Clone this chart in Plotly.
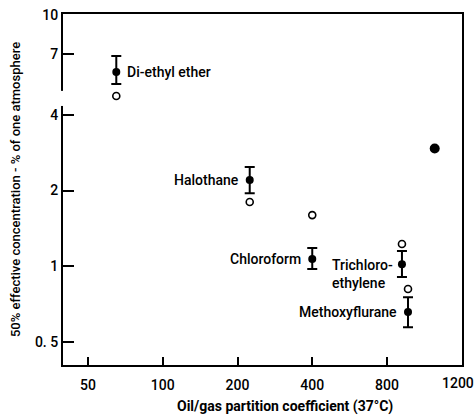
import math
import plotly.graph_objects as go

# ---- data ----
agents = ["Di-ethyl ether", "Halothane", "Chloroform", "Trichloro-<br>ethylene", "Methoxyflurane"]
oil_gas = [65, 224, 400, 919, 972]
ec50 = [5.93, 2.20, 1.066, 1.018, 0.656]
ec50_upper = [6.87, 2.48, 1.18, 1.147, 0.752]
ec50_lower = [5.31, 1.95, 0.973, 0.904, 0.571]
open_values = [4.76, 1.80, 1.596, 1.224, 0.810]
blot_x = [1245]
blot_y = [2.94]

x_tickvals = [50, 100, 200, 400, 800]
x_ticktext = ["50", "100", "200", "400", "800"]
x_end_label = "1200"
y_tickvals = [0.5, 1, 2, 4, 7, 10]
y_ticktext = ["0. 5", "1", "2", "4", "7", "10"]

FONT = "Roboto, sans-serif"

err_plus = [u - v for u, v in zip(ec50_upper, ec50)]
err_minus = [v - l for v, l in zip(ec50, ec50_lower)]

fig = go.Figure()
fig.add_trace(go.Scatter(
    x=oil_gas, y=open_values, mode="markers",
    marker=dict(symbol="circle-open", size=7, color="black", line=dict(width=1.6, color="black")),
    showlegend=False, hoverinfo="skip"))
fig.add_trace(go.Scatter(
    x=oil_gas, y=ec50, mode="markers",
    marker=dict(symbol="circle", size=8, color="black"),
    error_y=dict(type="data", symmetric=False, array=err_plus, arrayminus=err_minus,
                 color="black", thickness=2, width=5),
    showlegend=False))
fig.add_trace(go.Scatter(
    x=blot_x, y=blot_y, mode="markers",
    marker=dict(symbol="circle", size=10, color="black"),
    showlegend=False, hoverinfo="skip"))

# labels
label_cfg = [
    dict(xanchor="left", xshift=9, yshift=0, align="left", yanchor="middle"),
    dict(xanchor="right", xshift=-9, yshift=0, align="right", yanchor="middle"),
    dict(xanchor="right", xshift=-9, yshift=0, align="right", yanchor="middle"),
    dict(xanchor="right", xshift=-7, yshift=9, align="left", yanchor="top"),
    dict(xanchor="right", xshift=-9, yshift=0, align="right", yanchor="middle"),
]
for name, xv, yv, cfg in zip(agents, oil_gas, ec50, label_cfg):
    fig.add_annotation(x=math.log10(xv), y=math.log10(yv), text=name, showarrow=False,
                       font=dict(family=FONT, size=14, color="black", weight=500), **cfg)

# break in the y axis line between 4 and 7
fig.add_shape(type="rect", xref="paper", yref="paper", x0=-0.008, x1=0.008,
              y0=0.738, y1=0.781, fillcolor="white", line=dict(width=0), layer="above")

tfont = dict(family=FONT, size=14, color="black", weight=500)

# last x label sits at the right corner of the frame
fig.add_annotation(x=1, y=0, xref="paper", yref="paper", text=x_end_label, showarrow=False,
                   xanchor="center", yanchor="top", yshift=-8, xshift=-4, font=tfont)
# x axis title (placed a bit right of centre, as in the original)
fig.add_annotation(x=0.556, y=0, xref="paper", yref="paper",
                   text="Oil/gas partition coefficient (37°C)", showarrow=False,
                   xanchor="center", yanchor="middle", yshift=-41,
                   font=dict(family=FONT, size=14, color="black", weight=700))

fig.update_xaxes(type="log", range=[1.5983, 3.2051],
                 tickvals=x_tickvals, ticktext=x_ticktext,
                 ticks="inside", ticklen=8, tickwidth=2, tickcolor="black",
                 showline=True, linewidth=2, linecolor="black", mirror=True,
                 showgrid=False, zeroline=False, ticklabelstandoff=6,
                 automargin=False, tickfont=tfont)
fig.update_yaxes(type="log", range=[-0.394, 1.004],
                 tickvals=y_tickvals, ticktext=y_ticktext,
                 ticks="inside", ticklen=11, tickwidth=2, tickcolor="black",
                 showline=True, linewidth=2, linecolor="black", mirror=True,
                 showgrid=False, zeroline=False, automargin=False,
                 tickfont=tfont,
                 title=dict(text="50% effective concentration - % of one atmosphere",
                            font=dict(family=FONT, size=13, color="black", weight=500),
                            standoff=11))

fig.update_layout(width=474, height=416,
                  margin=dict(l=63, r=12, t=14, b=51),
                  paper_bgcolor="white", plot_bgcolor="white")

fig.write_html("out.html")
